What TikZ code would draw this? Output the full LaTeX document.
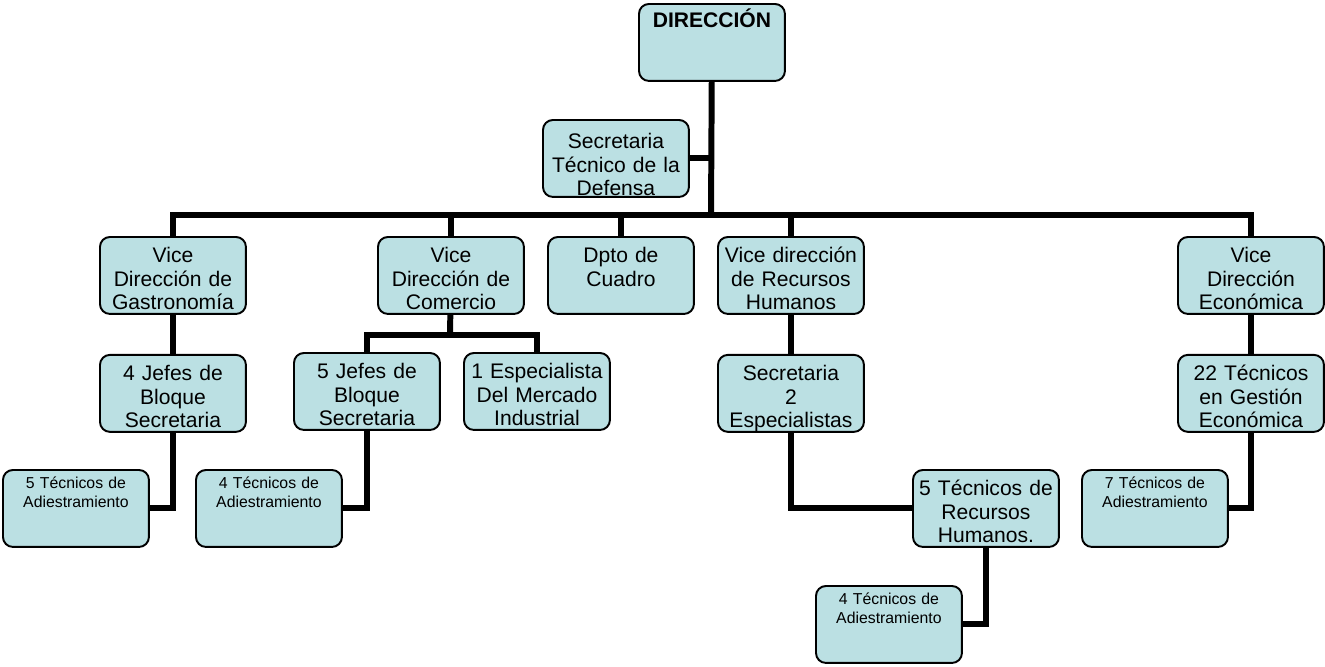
\documentclass[tikz,border=0pt]{standalone}
\usepackage{fontspec}
\setmainfont{Liberation Sans}
\usetikzlibrary{positioning}
\definecolor{boxcyan}{RGB}{187,224,227}

\begin{document}
\begin{tikzpicture}[
    x=0.02cm, y=-0.02cm,
    unit/.style={draw=black, line width=1.1pt, fill=boxcyan, rounded corners=0.2cm, inner sep=0pt,
        text width=2.92cm, align=center, text height=0.52cm, text depth=1.02cm,
        font=\fontsize{12}{13.2}\selectfont},
    smallunit/.style={unit, text height=0.38cm, text depth=1.16cm, font=\fontsize{9}{10.8}\selectfont},
    link/.style={line width=3.4pt}
]
\useasboundingbox (0,0) rectangle (1325,666);

% Top
\node[unit, anchor=north west, text height=0.48cm, text depth=1.06cm] (dir) at (638,3) {\textbf{DIRECCIÓN}};
\node[unit, anchor=north west, text height=0.58cm, text depth=0.96cm] (sec) at (542,119) {Secretaria\\Técnico de la\\Defensa};

% Vice directions
\node[unit, anchor=north west] (gas) at (99,236) {Vice\\Dirección de\\Gastronomía};
\node[unit, anchor=north west] (com) at (377,236) {Vice\\Dirección de\\Comercio};
\node[unit, anchor=north west] (dpto) at (547,236) {Dpto de\\Cuadro};
\node[unit, anchor=north west] (rrhh) at (717,236) {Vice dirección\\de Recursos\\Humanos};
\node[unit, anchor=north west] (eco) at (1177,236) {Vice\\Dirección\\Económica};

% Third level
\node[unit, below=0.78cm of gas] (jef4) {4 Jefes de\\Bloque\\Secretaria};
\node[unit, anchor=north west] (jef5) at (293,352) {5 Jefes de\\Bloque\\Secretaria};
\node[unit, anchor=north west] (esp) at (463,352) {1 Especialista\\Del Mercado\\Industrial};
\node[unit, below=0.78cm of rrhh] (sec2) {Secretaria\\2\\Especialistas};
\node[unit, below=0.78cm of eco] (tec22) {22 Técnicos\\en Gestión\\Económica};

% Technicians
\node[smallunit, anchor=north west] (tec5) at (2,469) {5 Técnicos de\\Adiestramiento};
\node[smallunit, anchor=north west] (tec4a) at (195,469) {4 Técnicos de\\Adiestramiento};
\node[unit, anchor=north west] (tecrh) at (912,469) {5 Técnicos de\\Recursos\\Humanos.};
\node[smallunit, anchor=north west] (tec4b) at (815,585) {4 Técnicos de\\Adiestramiento};
\node[smallunit, anchor=north west] (tec7) at (1081,469) {7 Técnicos de\\Adiestramiento};

% Lines
\coordinate (bus) at (711,215);
\coordinate (fork) at (450,335);
\draw[link] (dir) -- (bus);
\draw[link] (sec) -- (sec -| dir);
\draw[link] (gas.north) |- (bus) -| (eco.north);
\draw[link] (com.north) -- (com.north |- bus);
\draw[link] (dpto.north) -- (dpto.north |- bus);
\draw[link] (rrhh.north) -- (rrhh.north |- bus);
\draw[link] (gas) -- (jef4);
\draw[link] (com) -- (fork);
\draw[link] (jef5.north) |- (fork) -| (esp.north);
\draw[link] (rrhh) -- (sec2);
\draw[link] (eco) -- (tec22);
\draw[link] (jef4.south) |- (tec5.east);
\draw[link] (jef5.south) |- (tec4a.east);
\draw[link] (sec2.south) |- (tecrh.west);
\draw[link] (tecrh.south) |- (tec4b.east);
\draw[link] (tec22.south) |- (tec7.east);

\end{tikzpicture}
\end{document}
